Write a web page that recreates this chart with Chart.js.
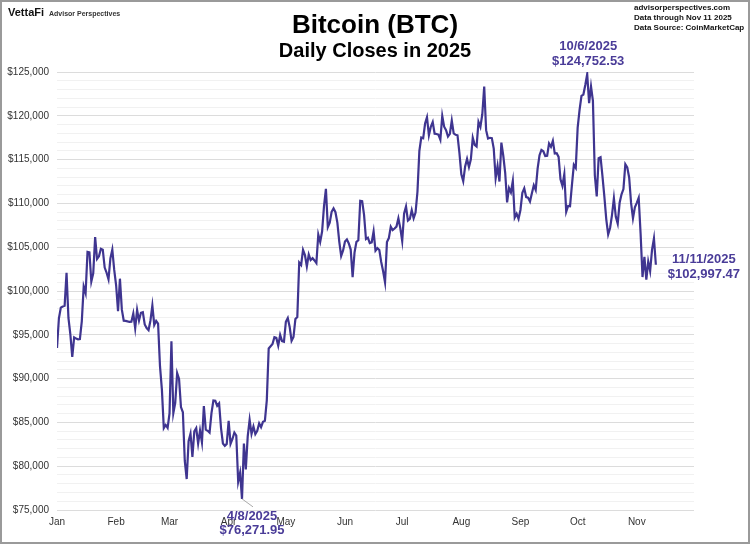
<!DOCTYPE html>
<html>
<head>
<meta charset="utf-8">
<title>Bitcoin (BTC) Daily Closes in 2025</title>
<script src="https://cdn.jsdelivr.net/npm/chart.js@4.4.1/dist/chart.umd.min.js"></script>
<style>
  html, body { margin: 0; padding: 0; background: #fff; }
  canvas { display: block; }
</style>
</head>
<body>
<canvas id="btc-chart" width="750" height="544"></canvas>
<script>
// daily closes, USD
var jan = [93500, 96886, 98107, 98236, 98315, 102078, 96922, 95043, 92484, 94701, 94566, 94488, 94516, 96534, 100504, 99756, 104462, 104408, 101089, 102016, 106146, 103653, 103960, 104820, 104714, 102682, 102087, 101333, 103733, 104722, 102405];
var feb = [100655, 97688, 101405, 97871, 96615, 96593, 96529, 96482, 96500, 97437, 95748, 97837, 96623, 97508, 97580, 96176, 95774, 95539, 96636, 98333, 96125, 96577, 96273, 91418, 88736, 84347, 84704, 84373];
var mar = [86031, 94248, 86065, 87222, 90624, 89961, 86742, 86154, 80601, 78532, 82862, 83722, 81066, 83969, 84343, 82579, 84075, 82718, 86854, 84167, 84043, 83832, 86054, 87498, 87471, 86900, 87177, 84353, 82597, 82334, 82548];
var apr = [85180, 82548, 83103, 83844, 83505, 78214, 79236, 76272, 82574, 79627, 83404, 85287, 83684, 84542, 83668, 84033, 84895, 84450, 85063, 85174, 87519, 93441, 93700, 93943, 94720, 94646, 93754, 94979, 94284, 94207];
var may = [96492, 96910, 95891, 94315, 94748, 96802, 97032, 103241, 102970, 104697, 104107, 102813, 104169, 103539, 103744, 103489, 103191, 106446, 105606, 106791, 109678, 111673, 107287, 107791, 109035, 109440, 108994, 107802, 105642, 103998, 104638];
var jun = [105652, 105882, 105433, 104731, 101576, 104390, 105616, 105793, 110295, 110257, 108687, 105930, 106090, 105473, 105553, 106800, 104601, 104884, 104686, 103310, 102258, 100987, 105578, 106041, 107340, 106948, 107136, 107353, 108290, 107173];
var jul = [105704, 108859, 109648, 108034, 108231, 109232, 108300, 108950, 111327, 115987, 117516, 117435, 119117, 119841, 117777, 118738, 119289, 117960, 117925, 117840, 117265, 119996, 118755, 118368, 117636, 117948, 119448, 118003, 117829, 117777, 115758];
var aug = [113321, 112527, 114218, 115072, 114141, 115029, 117496, 116689, 116500, 119306, 118732, 120173, 123344, 118360, 117399, 117491, 117453, 116253, 112873, 114271, 112500, 116937, 115439, 113493, 110111, 111763, 111262, 112567, 108378, 108808, 108236];
var sep = [109250, 111200, 111723, 110723, 110651, 110224, 111167, 112071, 111547, 113960, 115507, 116101, 115950, 115408, 115444, 116843, 116468, 117137, 115688, 115721, 115306, 112749, 112014, 113328, 109049, 109712, 109681, 112122, 114400, 114057];
var oct = [118648, 120681, 122267, 122425, 123514, 124753, 121452, 123355, 121705, 113214, 110807, 115169, 115272, 113118, 110783, 108186, 106468, 107198, 108666, 110588, 108476, 107688, 110069, 111033, 111641, 114472, 114119, 112956, 110055, 108305, 109556];
var nov = [110064, 110640, 106547, 101590, 103891, 101301, 103372, 102282, 104719, 105997, 102997];

// x axis: day of year (0 = Jan 1)
var monthNames = ['Jan', 'Feb', 'Mar', 'Apr', 'May', 'Jun', 'Jul', 'Aug', 'Sep', 'Oct', 'Nov'];
var monthStarts = [0, 31, 59, 90, 120, 151, 181, 212, 243, 273, 304];
var xEnd = 334;

// y axis
var yMin = 75000;
var yMax = 125000;

// labelled points: [day index, date, price]
var callouts = [
    [97, '4/8/2025', '$76,271.95'],
    [278, '10/6/2025', '$124,752.53'],
    [314, '11/11/2025', '$102,997.47']
];

var closes = [].concat(jan, feb, mar, apr, may, jun, jul, aug, sep, oct, nov);
var points = closes.map(function (v, i) { return { x: i, y: v }; });

var lineColor = '#3f3590';
var noteColor = '#4a3c98';
var fontFamily = '"Liberation Sans", Arial, Helvetica, sans-serif';

function dollars(v) {
    return '$' + String(v).replace(/\B(?=(\d{3})+(?!\d))/g, ',');
}

var decorations = {
    id: 'decorations',
    afterDraw: function (chart) {
        var ctx = chart.ctx;
        var meta = chart.getDatasetMeta(0);
        ctx.save();

        // frame
        ctx.strokeStyle = '#9a9a9a';
        ctx.lineWidth = 2;
        ctx.strokeRect(1, 1, 748, 542);

        // titles
        ctx.fillStyle = '#000';
        ctx.textAlign = 'center';
        ctx.textBaseline = 'alphabetic';
        ctx.font = 'bold 26px ' + fontFamily;
        ctx.fillText('Bitcoin (BTC)', 375, 33);
        ctx.font = 'bold 20px ' + fontFamily;
        ctx.fillText('Daily Closes in 2025', 375, 57);

        // branding
        ctx.textAlign = 'left';
        ctx.fillStyle = '#111';
        ctx.font = 'bold 11px ' + fontFamily;
        ctx.fillText('VettaFi', 8, 16);
        ctx.fillStyle = '#333';
        ctx.font = 'bold 7px ' + fontFamily;
        ctx.fillText('Advisor Perspectives', 49, 16);

        ctx.fillStyle = '#111';
        ctx.font = 'bold 8px ' + fontFamily;
        ctx.fillText('advisorperspectives.com', 634, 10);
        ctx.fillText('Data through Nov 11 2025', 634, 20);
        ctx.fillText('Data Source: CoinMarketCap', 634, 30);

        // callouts
        ctx.font = 'bold 13px ' + fontFamily;
        ctx.textAlign = 'center';
        ctx.lineJoin = 'round';
        callouts.forEach(function (c) {
            var p = meta.data[c[0]];
            var tx, y1, y2, halo = 3;
            if (c[0] === 97) {
                ctx.strokeStyle = '#aaa';
                ctx.lineWidth = 1;
                ctx.beginPath();
                ctx.moveTo(p.x, p.y);
                ctx.lineTo(p.x + 11, p.y + 8);
                ctx.stroke();
                tx = p.x + 10; y1 = p.y + 21; y2 = p.y + 35;
                halo = 0;
            } else if (c[0] === 278) {
                tx = p.x + 1; y1 = p.y - 24; y2 = p.y - 9;
            } else {
                tx = p.x + 48; y1 = p.y - 2; y2 = p.y + 13;
            }
            [[c[1], y1], [c[2], y2]].forEach(function (t) {
                if (halo) {
                    ctx.strokeStyle = '#fff';
                    ctx.lineWidth = halo;
                    ctx.strokeText(t[0], tx, t[1]);
                }
                ctx.fillStyle = noteColor;
                ctx.fillText(t[0], tx, t[1]);
            });
        });
        ctx.restore();
    }
};

var ctx = document.getElementById('btc-chart');

new Chart(ctx, {
    type: 'line',
    data: {
        datasets: [{
            label: 'BTC close',
            data: points,
            borderColor: lineColor,
            borderWidth: 2.2,
            pointRadius: 0,
            tension: 0,
            fill: false
        }]
    },
    options: {
        responsive: false,
        animation: false,
        layout: { padding: { top: 72, right: 56, left: 0, bottom: 0 } },
        plugins: {
            legend: { display: false },
            title: { display: false },
            tooltip: { enabled: false }
        },
        scales: {
            x: {
                type: 'linear',
                min: 0,
                max: xEnd,
                grid: { display: false, drawTicks: false },
                border: { display: false },
                afterBuildTicks: function (scale) {
                    scale.ticks = monthStarts.map(function (v) { return { value: v }; });
                },
                afterFit: function (scale) { scale.height = 34; },
                ticks: {
                    autoSkip: false,
                    maxRotation: 0,
                    padding: 6,
                    color: '#333',
                    font: { family: fontFamily, size: 10 },
                    callback: function (v) {
                        var i = monthStarts.indexOf(v);
                        return i >= 0 ? monthNames[i] : '';
                    }
                }
            },
            y: {
                min: yMin,
                max: yMax,
                border: { display: false },
                grid: {
                    drawTicks: false,
                    lineWidth: 1,
                    color: function (c) {
                        return c.tick && c.tick.value % 5000 === 0 ? '#dcdcdc' : '#f1f1f1';
                    }
                },
                afterFit: function (scale) { scale.width = 57; },
                ticks: {
                    stepSize: 1000,
                    autoSkip: false,
                    padding: 8,
                    color: '#333',
                    font: { family: fontFamily, size: 10 },
                    callback: function (v) {
                        return v % 5000 === 0 ? dollars(v) : '';
                    }
                }
            }
        }
    },
    plugins: [decorations]
});
</script>
</body>
</html>
